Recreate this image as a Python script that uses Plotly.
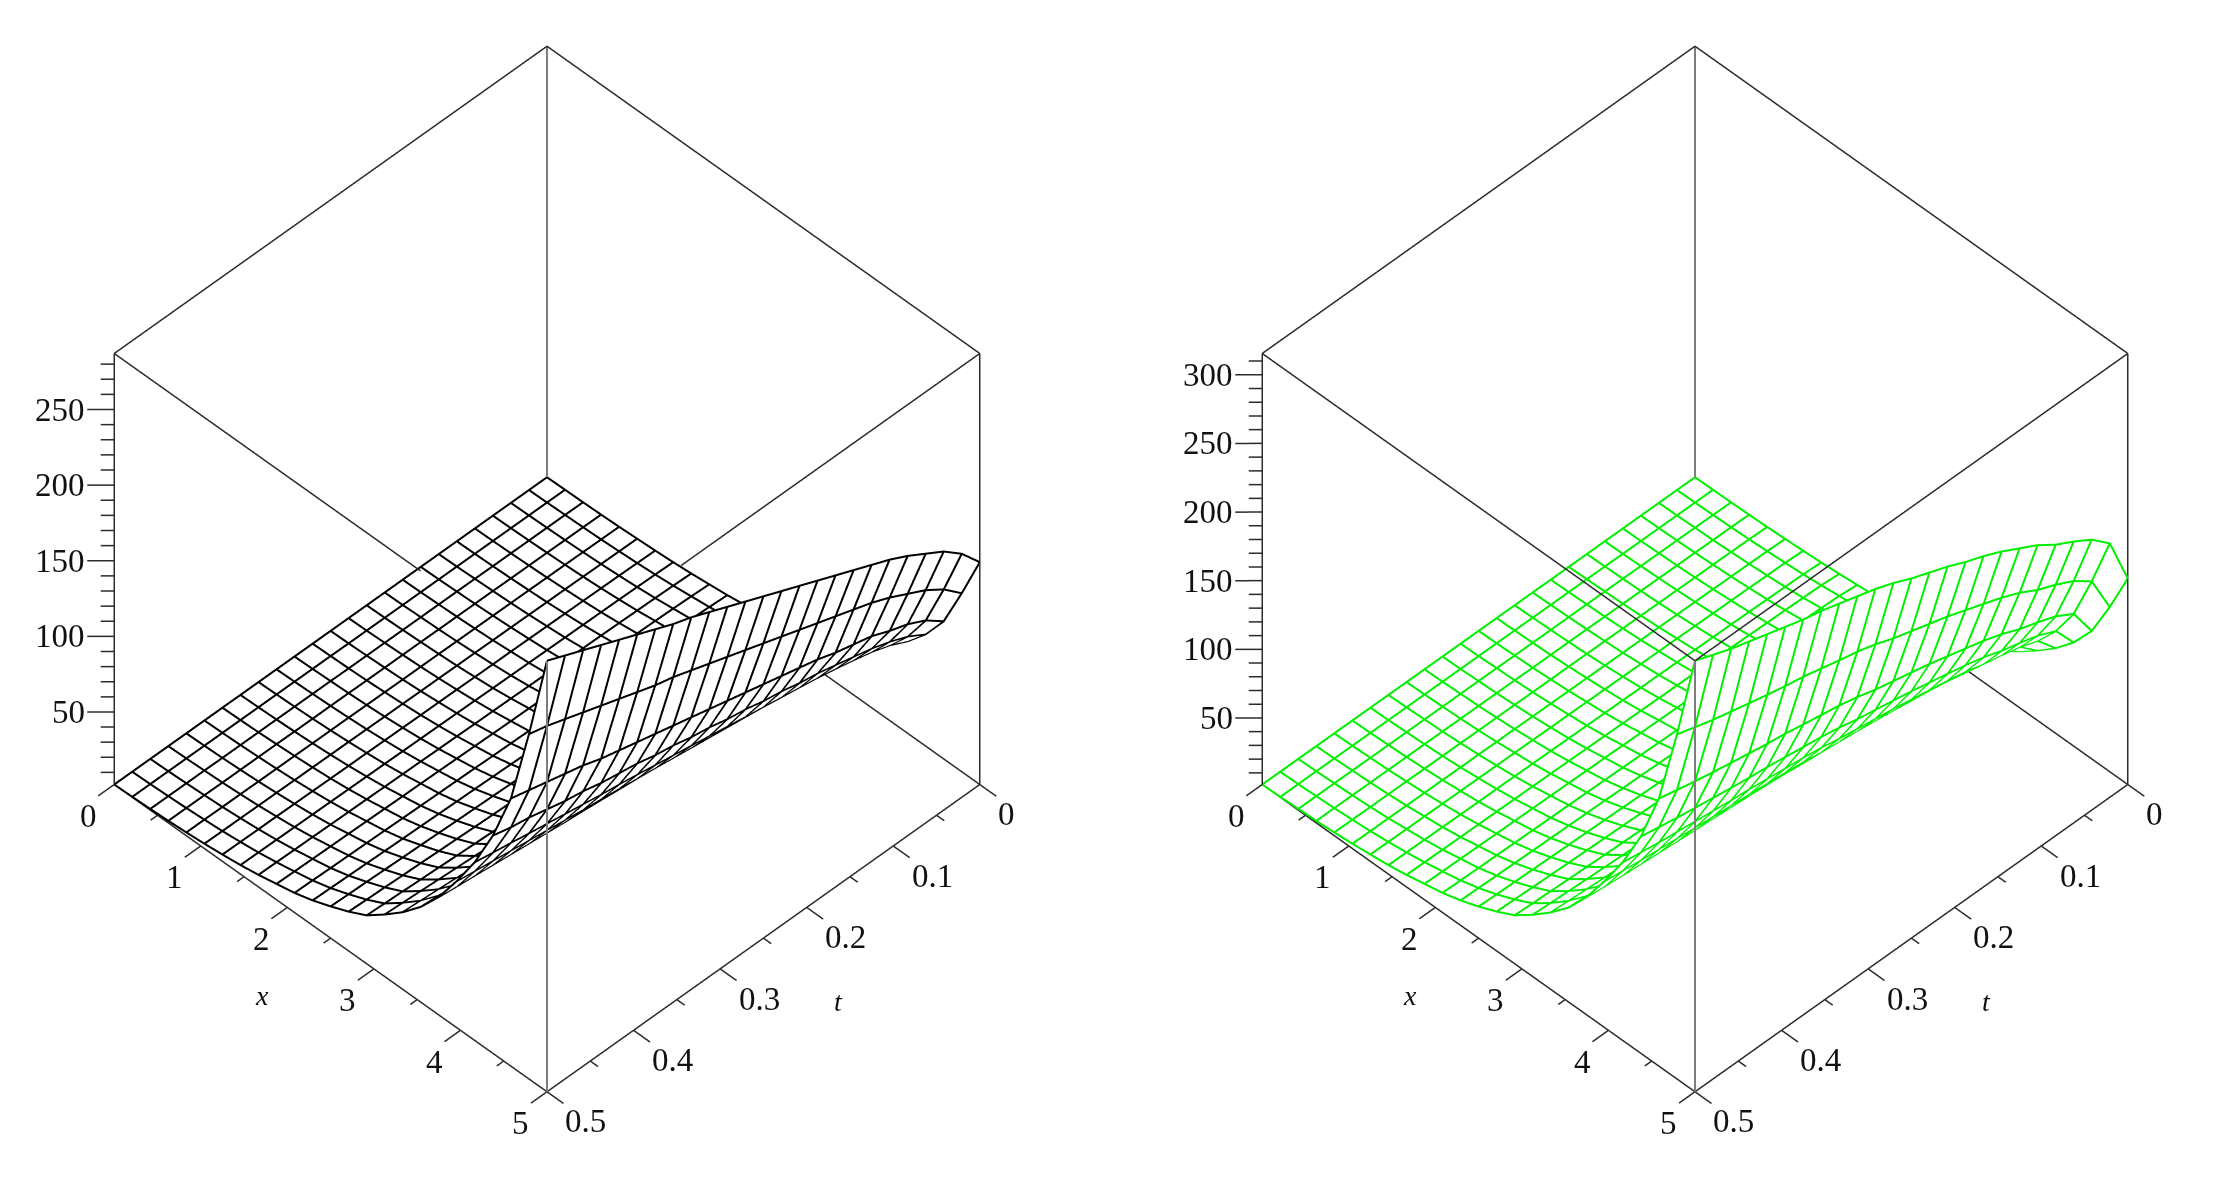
import plotly.graph_objects as go

x_values = [0,0.2083,0.4167,0.625,0.8333,1.0417,1.25,1.4583,1.6667,1.875,2.0833,2.2917,2.5,2.7083,2.9167,3.125,3.3333,3.5417,3.75,3.9583,4.1667,4.375,4.5833,4.7917,5]
t_values = [0,0.0208,0.0417,0.0625,0.0833,0.1042,0.125,0.1458,0.1667,0.1875,0.2083,0.2292,0.25,0.2708,0.2917,0.3125,0.3333,0.3542,0.375,0.3958,0.4167,0.4375,0.4583,0.4792,0.5]

left_z = [
[2]*25,
[2.2]*13 + [2.3]*12,
[2.4,2.5,2.5,2.5,2.5,2.5,2.6,2.6,2.6,2.6,2.6,2.6,2.6,2.6,2.7,2.7,2.7,2.7,2.7,2.7,2.7,2.8,2.8,2.8,2.8],
[2.7,2.8,2.8,2.9,2.9,2.9,3,3,3,3,3.1,3.1,3.1,3.1,3.2,3.2,3.2,3.2,3.3,3.3,3.3,3.3,3.4,3.4,3.4],
[3.1,3.2,3.3,3.4,3.4,3.5,3.5,3.6,3.6,3.6,3.7,3.7,3.7,3.8,3.8,3.9,3.9,3.9,4,4,4,4.1,4.1,4.2,4.2],
[3.7,3.8,3.9,4,4.1,4.1,4.2,4.3,4.3,4.4,4.4,4.5,4.5,4.6,4.6,4.7,4.8,4.8,4.9,4.9,5,5,5.1,5.1,5.2],
[4.3,4.5,4.7,4.8,4.9,5,5.1,5.2,5.3,5.3,5.4,5.5,5.6,5.6,5.7,5.8,5.9,5.9,6,6.1,6.2,6.3,6.3,6.4,6.5],
[5.1,5.4,5.6,5.8,5.9,6,6.1,6.2,6.3,6.4,6.5,6.7,6.8,6.9,7,7.1,7.2,7.3,7.4,7.5,7.6,7.7,7.8,7.9,8],
[6.1,6.5,6.8,7,7.2,7.4,7.5,7.6,7.8,7.9,8.1,8.2,8.3,8.5,8.6,8.8,8.9,9,9.2,9.3,9.4,9.6,9.7,9.9,10],
[7.4,7.9,8.3,8.6,8.8,9,9.2,9.4,9.6,9.8,10,10.1,10.3,10.5,10.7,10.9,11.1,11.2,11.4,11.6,11.8,11.9,12.1,12.3,12.5],
[8.7,9.3,9.8,10.1,10.4,10.7,10.9,11.2,11.4,11.6,11.9,12.1,12.3,12.5,12.8,13,13.2,13.4,13.6,13.9,14.1,14.3,14.5,14.8,15],
[10.5,11.3,11.9,12.3,12.7,13.1,13.4,13.6,13.9,14.2,14.5,14.8,15.1,15.4,15.7,16,16.2,16.5,16.8,17,17.3,17.6,17.9,18.2,18.5],
[12.8,13.9,14.6,15.1,15.6,16.1,16.4,16.8,17.2,17.5,17.9,18.3,18.7,19,19.4,19.8,20.1,20.4,20.8,21.2,21.5,21.9,22.3,22.6,23],
[15.4,16.7,17.6,18.3,18.9,19.4,19.9,20.3,20.8,21.2,21.7,22.2,22.6,23.1,23.5,24,24.4,24.8,25.3,25.7,26.2,26.6,27.1,27.5,28],
[18.5,20.1,21.2,22,22.8,23.4,24,24.6,25.1,25.7,26.3,26.8,27.4,28,28.5,29.1,29.6,30.1,30.6,31.2,31.8,32.3,32.9,33.4,34],
[23.2,25.2,26.6,27.6,28.6,29.5,30.2,30.9,31.6,32.3,33.1,33.8,34.5,35.3,36,36.7,37.4,38,38.7,39.4,40.1,40.8,41.6,42.3,43],
[28.3,30.8,32.6,33.9,35.1,36.2,37.1,38,38.9,39.7,40.7,41.5,42.4,43.4,44.2,45.1,46,46.7,47.6,48.5,49.4,50.3,51.2,52.1,53],
[34.5,37.6,39.8,41.4,42.9,44.2,45.3,46.4,47.5,48.6,49.8,50.8,52,53.1,54.2,55.3,56.4,57.3,58.4,59.5,60.6,61.7,62.8,63.9,65],
[42.2,46.1,48.8,50.8,52.6,54.3,55.7,57,58.4,59.7,61.1,62.5,63.9,65.3,66.6,68,69.3,70.4,71.8,73.1,74.5,75.9,77.3,78.6,80],
[52,56.8,60.2,62.6,65,67,68.7,70.4,72.1,73.8,75.5,77.2,78.9,80.7,82.3,84.1,85.7,87.1,88.8,90.5,92.2,93.9,95.6,97.3,99],
[62.9,68.7,72.8,75.8,78.6,81.1,83.2,85.2,87.3,89.3,91.4,93.5,95.6,97.7,99.7,101.8,103.8,105.5,107.6,109.6,111.7,113.7,115.9,117.9,120],
[76,83,88,92,95,98,101,103,106,108,111,113,116,118,121,123,126,128,130,133,135,138,141,143,146],
[93,102,108,112,117,120,123,127,130,133,136,139,142,145,148,151,154,157,160,163,167,170,173,176,179],
[120,131,139,145,151,156,160,164,168,172,176,180,184,188,192,196,200,203,207,211,215,219,223,227,230],
[149,163,173,180,187,193,198,203,208,213,218,223,228,233,238,243,248,252,257,262,267,272,277,282,287],
]

right_z = [
[1.5]*25,
[1.7]*6 + [1.8]*19,
[1.9,2,2.1,2.1,2.1,2.1,2.2,2.2,2.2,2.2,2.2,2.2,2.2,2.3,2.3,2.3,2.3,2.3,2.3,2.3,2.3,2.4,2.4,2.4,2.4],
[2.2,2.4,2.4,2.5,2.5,2.6,2.6,2.6,2.6,2.7,2.7,2.7,2.7,2.8,2.8,2.8,2.8,2.9,2.9,2.9,2.9,2.9,3,3,3],
[2.6,2.9,3,3.1,3.1,3.2,3.2,3.3,3.3,3.4,3.4,3.5,3.5,3.5,3.6,3.6,3.6,3.7,3.7,3.7,3.8,3.8,3.8,3.9,3.9],
[3.2,3.6,3.7,3.8,3.9,4,4,4.1,4.2,4.2,4.3,4.4,4.4,4.5,4.5,4.6,4.6,4.7,4.7,4.8,4.8,4.8,4.9,4.9,5],
[3.9,4.5,4.6,4.8,4.9,5,5.1,5.2,5.3,5.4,5.5,5.6,5.7,5.8,5.8,5.9,6,6,6.1,6.1,6.2,6.3,6.3,6.4,6.5],
[4.7,5.4,5.6,5.8,6,6.2,6.3,6.4,6.6,6.7,6.8,6.9,7,7.1,7.2,7.3,7.4,7.5,7.6,7.6,7.7,7.8,7.9,8,8.1],
[5.7,6.7,7,7.3,7.4,7.7,7.9,8.1,8.2,8.4,8.5,8.7,8.8,9,9.1,9.3,9.4,9.5,9.6,9.7,9.8,9.9,10,10.2,10.3],
[7,8.3,8.8,9.1,9.3,9.7,9.9,10.2,10.4,10.6,10.8,11,11.2,11.4,11.6,11.7,11.9,12,12.1,12.3,12.4,12.6,12.7,12.9,13.1],
[8.3,9.9,10.5,10.9,11.2,11.6,11.9,12.2,12.5,12.7,13,13.2,13.4,13.7,13.9,14.1,14.3,14.5,14.6,14.8,15,15.2,15.3,15.6,15.8],
[10.2,12.2,12.9,13.4,13.8,14.3,14.7,15.1,15.4,15.8,16.1,16.4,16.7,17,17.3,17.5,17.8,18,18.2,18.4,18.6,18.9,19.1,19.4,19.7],
[12.5,15.1,15.9,16.5,17,17.7,18.2,18.7,19.1,19.6,19.9,20.3,20.7,21.1,21.5,21.8,22.1,22.4,22.6,22.9,23.2,23.5,23.8,24.1,24.5],
[15.2,18.4,19.5,20.3,20.9,21.7,22.4,22.9,23.5,24,24.5,25,25.4,26,26.4,26.8,27.2,27.5,27.8,28.2,28.5,28.9,29.3,29.7,30.2],
[18.4,22.3,23.7,24.6,25.4,26.4,27.2,27.9,28.5,29.2,29.8,30.3,30.9,31.6,32.2,32.6,33,33.5,33.9,34.3,34.8,35.2,35.7,36.2,36.8],
[23,28.1,29.8,30.9,31.9,33.2,34.3,35.1,36,36.8,37.5,38.3,39,39.9,40.6,41.1,41.7,42.3,42.8,43.3,43.9,44.5,45.1,45.8,46.5],
[28.3,34.5,36.7,38.1,39.4,41,42.3,43.3,44.4,45.5,46.4,47.3,48.1,49.3,50.2,50.8,51.6,52.3,52.9,53.5,54.3,55,55.7,56.6,57.5],
[34.5,42.2,44.8,46.6,48.1,50.1,51.7,53,54.4,55.7,56.8,57.9,59,60.4,61.5,62.3,63.2,64.1,64.8,65.6,66.5,67.4,68.3,69.4,70.5],
[42.6,52.2,55.5,57.7,59.6,62.1,64.1,65.7,67.4,69,70.4,71.8,73.1,74.9,76.2,77.3,78.4,79.5,80.4,81.4,82.5,83.6,84.7,86.1,87.5],
[52.6,64.6,68.7,71.5,73.8,76.9,79.4,81.4,83.5,85.5,87.2,88.9,90.6,92.8,94.5,95.8,97.2,98.5,99.6,100.9,102.3,103.7,105.1,106.8,108.5],
[63.6,78.2,83.1,86.5,89.4,93.2,96.1,98.6,101.1,103.6,105.6,107.7,109.8,112.4,114.5,116,117.7,119.4,120.7,122.3,124,125.7,127.3,129.4,131.5],
[77,94.7,100.7,104.8,108.3,112.9,116.5,119.5,122.5,125.5,128.1,130.6,133.1,136.3,138.8,140.7,142.8,144.8,146.4,148.3,150.3,152.4,154.5,157,159.5],
[94.7,116.5,124,129,133.3,139,143.5,147.2,150.9,154.6,157.7,160.8,163.9,167.8,171,173.3,175.8,178.4,180.3,182.7,185.2,187.7,190.3,193.4,196.5],
[121.5,149.5,159.1,165.7,171.2,178.5,184.2,189,193.8,198.5,202.5,206.5,210.5,215.5,219.5,222.5,225.9,229.2,231.7,234.7,237.9,241.2,244.5,248.5,252.5],
[151.5,186.5,198.5,206.5,213.5,222.5,229.5,236.5,242.5,247.5,253.5,258.5,263.5,269.5,274.5,278.5,282.5,286.5,289.5,293.5,297.5,301.5,305.5,310.5,315.5],
]

x_major = [0,1,2,3,4,5]
x_minor = [0.5,1.5,2.5,3.5,4.5]
t_major = [0,0.1,0.2,0.3,0.4,0.5]
t_minor = [0.05,0.15,0.25,0.35,0.45]
left_z_labels = [50,100,150,200,250]
left_z_ticks = list(range(10,290,10))
right_z_labels = [50,100,150,200,250,300]
right_z_ticks = list(range(10,320,10))
left_z_range = [2,287]
right_z_range = [1.5,315.5]

FONT = "Liberation Serif"
EDGE = "#2b2b2b"
GRAY = "#7d7d7d"
Z_PAD = 0.03
SCALE = 1.091
DEPTH = 0.006   # how far the white surface sits behind its mesh, as a share of the box side


def lines(segs, color, width, scene):
    xs, ys, zs = [], [], []
    for a, b in segs:
        xs += [a[1], b[1], None]
        ys += [a[0], b[0], None]
        zs += [a[2], b[2], None]
    return go.Scatter3d(x=xs, y=ys, z=zs, mode="lines", line=dict(color=color, width=width),
                        hoverinfo="skip", showlegend=False, scene=scene)


def panel(fig, z, zr, zticks, zlabels, mesh, scene, hide_top):
    z0, z1 = zr
    # white surface pushed straight back along the line of sight: same place on screen,
    # just behind the mesh, so it hides only what really lies behind it
    dt, dx, dz = DEPTH * .493 * .5, DEPTH * .493 * 5, DEPTH * .707 * (z1 - z0)
    fig.add_trace(go.Surface(x=[v - dt for v in t_values], y=[v - dx for v in x_values],
        z=[[v - dz for v in row] for row in z],
        scene=scene, showscale=False,
        colorscale=[[0, "white"], [1, "white"]], hoverinfo="skip",
        lighting=dict(ambient=1, diffuse=0, specular=0, fresnel=0, roughness=1)))
    mesh_x, mesh_y, mesh_z = [], [], []
    for i, row in enumerate(z):
        mesh_x += t_values + [None]
        mesh_y += [x_values[i]] * 25 + [None]
        mesh_z += row + [None]
    for j in range(25):
        mesh_x += [t_values[j]] * 25 + [None]
        mesh_y += x_values + [None]
        mesh_z += [row[j] for row in z] + [None]
    fig.add_trace(go.Scatter3d(x=mesh_x, y=mesh_y, z=mesh_z, mode="lines", scene=scene,
                               line=dict(color=mesh, width=4), hoverinfo="skip", showlegend=False))
    # points are (x, t, z)
    if hide_top:
        top = [((0,.5,z1),(3.54,.5,z1)), ((5,0,z1),(5,.345,z1))]
    else:
        top = [((0,.5,z1),(5,.5,z1)), ((5,0,z1),(5,.5,z1))]
    segs = top + [
        ((0,0,z1),(0,.5,z1)), ((0,0,z1),(5,0,z1)),
        ((0,.5,z0),(0,.5,z1)), ((5,0,z0),(5,0,z1)),
        ((3,0,z0),(5,0,z0)),
        ((0,.5,z0),(5,.5,z0)), ((5,0,z0),(5,.5,z0)),
    ]
    for v in x_major:
        segs.append(((v,.5,z0),(v,.5185,z0)))
    for v in x_minor:
        segs.append(((v,.5,z0),(v,.508,z0)))
    for v in t_major:
        segs.append(((5,v,z0),(5.19,v,z0)))
    for v in t_minor:
        segs.append(((5,v,z0),(5.09,v,z0)))
    for v in zticks:
        d = 1.0 if v in zlabels else 0.5
        segs.append(((0,.5,v),(-.155*d,.5+.0156*d,v)))
    fig.add_trace(lines(segs, EDGE, 3, scene))
    fig.add_trace(lines([((5,.5,z0),(5,.5,z1)), ((0,0,z0),(0,0,z1))], GRAY, 4, scene))

    ann = []
    def lab(x, t, zz, text, xa, dx, dy, size=33):
        ann.append(dict(x=t, y=x, z=zz, text=text, showarrow=False, xanchor=xa, yanchor="middle",
                        xshift=dx, yshift=dy, font=dict(family=FONT, size=size, color="#111")))
    for v in x_major:
        lab(v, .5185, z0, str(v), "center", -10, -20)
    for v in t_major:
        lab(5.19, v, z0, "0" if v == 0 else str(v), "left", 0, -18)
    for v in zlabels:
        lab(-.155, .5156, v, str(v), "right", 0, 0)
    lab(2.5, .5, z0, "<i>x</i>", "center", -69, -57, 28)
    lab(5, .25, z0, "<i>t</i>", "center", 75, -63, 28)
    return ann


fig = go.Figure()
ann1 = panel(fig, left_z, left_z_range, left_z_ticks, left_z_labels, "#000000", "scene", True)
ann2 = panel(fig, right_z, right_z_range, right_z_ticks, right_z_labels, "#00f000", "scene2", False)


def scene_layout(domain_x, zr, ann):
    ax = dict(visible=False, showspikes=False)
    pad = (zr[1] - zr[0]) * Z_PAD
    return dict(
        domain=dict(x=domain_x, y=[59/1181, 1]),
        xaxis=dict(range=[-.03, .53], **ax),
        yaxis=dict(range=[-.3, 5.3], **ax),
        zaxis=dict(range=[zr[0] - pad, zr[1] + pad], **ax),
        aspectmode="manual",
        aspectratio=dict(x=1.12 * SCALE, y=1.12 * SCALE, z=(1 + 2 * Z_PAD) * SCALE),
        camera=dict(projection=dict(type="orthographic"), eye=dict(x=0.993, y=0.993, z=1.4157),
                    center=dict(x=0, y=0, z=0), up=dict(x=0, y=0, z=1)),
        bgcolor="white", annotations=ann)


fig.update_layout(
    width=2222, height=1181, margin=dict(l=0, r=0, t=0, b=0),
    paper_bgcolor="white", showlegend=False, hovermode=False,
    scene=scene_layout([12/2222, 1066/2222], left_z_range, ann1),
    scene2=scene_layout([1160/2222, 2214/2222], right_z_range, ann2),
)
fig.write_html("out.html", config=dict(displayModeBar=False))
